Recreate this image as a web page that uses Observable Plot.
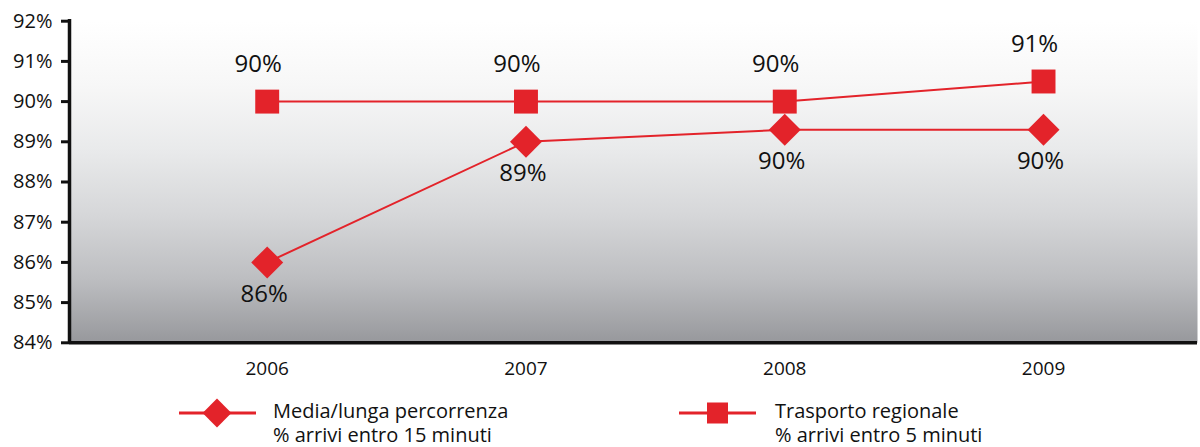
<!DOCTYPE html>
<html>
<head>
<meta charset="utf-8">
<script src="https://cdn.jsdelivr.net/npm/d3@7"></script>
<script src="https://cdn.jsdelivr.net/npm/@observablehq/plot@0.6"></script>
<style>
  html, body { margin: 0; padding: 0; background: #fff; }
  #wrap { position: relative; width: 1200px; height: 447px; font-family: "Open Sans", sans-serif; color: #111; overflow: hidden; }
  #chart { position: absolute; left: 0; top: 0; }
  .leg { position: absolute; font-size: 20px; line-height: 20px; white-space: nowrap; }
  .sw { position: absolute; }
</style>
</head>
<body>
<div id="wrap">
  <div id="chart"></div>
  <svg class="sw" id="sw1" style="left:175px;top:395px" width="90" height="36"></svg>
  <div class="leg" style="left:273px;top:401px">Media/lunga percorrenza</div>
  <div class="leg" style="left:273px;top:425px">% arrivi entro 15 minuti</div>
  <svg class="sw" id="sw2" style="left:675px;top:395px" width="90" height="36"></svg>
  <div class="leg" style="left:775px;top:401px">Trasporto regionale</div>
  <div class="leg" style="left:775px;top:425px">% arrivi entro 5 minuti</div>
</div>
<script>
const years = [2006, 2007, 2008, 2009];
const mediaLunga = [86.0, 89.0, 89.3, 89.3];
const mediaLungaLabels = ["86%", "89%", "90%", "90%"];
const regionale = [90.0, 90.0, 90.0, 90.5];
const regionaleLabels = ["90%", "90%", "90%", "91%"];
const yTicks = [84, 85, 86, 87, 88, 89, 90, 91, 92];

const red = "#e3232a";
const ml = years.map((x, i) => ({x, y: mediaLunga[i], label: mediaLungaLabels[i]}));
const rg = years.map((x, i) => ({x, y: regionale[i], label: regionaleLabels[i]}));
const xDomain = [2005.236, 2009.595];

const svg = Plot.plot({
  width: 1200,
  height: 390,
  marginLeft: 69,
  marginRight: 3,
  marginTop: 20.7,
  marginBottom: 47.7,
  style: {fontFamily: "Open Sans, sans-serif", color: "#111", background: "transparent"},
  x: {type: "linear", domain: xDomain, label: null},
  y: {domain: [84, 92], label: null},
  marks: [
    Plot.frame({fill: "url(#bgGrad)", stroke: "none"}),
    Plot.axisY({ticks: yTicks, tickFormat: d => d + "%", tickSize: 8, tickPadding: 9, fontSize: 20, strokeWidth: 3, stroke: "#111", label: null}),
    Plot.axisX({ticks: years, tickFormat: d => String(d), tickSize: 0, tickPadding: 19, fontSize: 19, label: null}),
    Plot.line(ml, {x: "x", y: "y", stroke: red, strokeWidth: 2}),
    Plot.line(rg, {x: "x", y: "y", stroke: red, strokeWidth: 2}),
    Plot.dot(ml, {x: "x", y: "y", symbol: "diamond2", r: 14.4, fill: red, stroke: "none"}),
    Plot.dot(rg, {x: "x", y: "y", symbol: "square", r: 13.5, fill: red, stroke: "none"}),
    Plot.text(ml, {x: "x", y: "y", text: "label", dy: 32, dx: -3, fontSize: 24, fill: "#111"}),
    Plot.text(rg, {x: "x", y: "y", text: "label", dy: -37, dx: -9, fontSize: 24, fill: "#111"}),
    Plot.ruleY([84], {x1: xDomain[0], x2: xDomain[1], stroke: "#111", strokeWidth: 3.5}),
    Plot.ruleX([xDomain[0]], {y1: 84, y2: 92.04, stroke: "#111", strokeWidth: 3.5})
  ]
});

const defs = d3.select(svg).insert("defs", ":first-child");
const g = defs.append("linearGradient").attr("id", "bgGrad")
  .attr("x1", 0).attr("y1", 0).attr("x2", 0).attr("y2", 1);
[[0, "#ffffff"], [0.2, "#f7f7f7"], [0.4, "#e9eaeb"], [0.6, "#d6d7d9"], [0.8, "#bdbec1"], [1, "#97989c"]]
  .forEach(([o, c]) => g.append("stop").attr("offset", o).attr("stop-color", c));

document.getElementById("chart").appendChild(svg);

// legend swatches
const s1 = d3.select("#sw1");
s1.append("line").attr("x1", 4).attr("x2", 81).attr("y1", 18).attr("y2", 18).attr("stroke", red).attr("stroke-width", 3);
s1.append("path").attr("d", d3.symbol(d3.symbolDiamond2, Math.PI * 13 * 13)()).attr("transform", "translate(42,18)").attr("fill", red);
const s2 = d3.select("#sw2");
s2.append("line").attr("x1", 4).attr("x2", 81).attr("y1", 18).attr("y2", 18).attr("stroke", red).attr("stroke-width", 3);
s2.append("rect").attr("x", 32).attr("y", 7.5).attr("width", 21).attr("height", 21).attr("fill", red);
</script>
</body>
</html>
